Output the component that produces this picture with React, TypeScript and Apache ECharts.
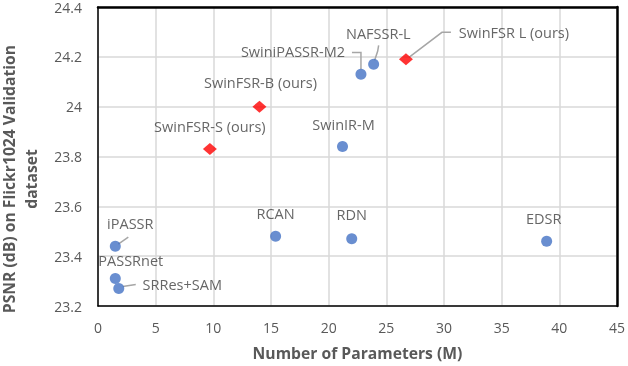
import React, { useEffect, useRef } from "react";
import * as echarts from "echarts";

// ---- data ----
const oursNames = ["SwinFSR-S (ours)", "SwinFSR-B (ours)", "SwinFSR L (ours)"];
const oursParams = [9.7, 14.0, 26.7];
const oursPsnr = [23.83, 24.0, 24.19];

const otherNames = ["SwiniPASSR-M2", "NAFSSR-L", "SwinIR-M", "RCAN", "RDN", "EDSR", "iPASSR", "PASSRnet", "SRRes+SAM"];
const otherParams = [22.8, 23.9, 21.2, 15.4, 22.0, 38.9, 1.5, 1.5, 1.8];
const otherPsnr = [24.13, 24.17, 23.84, 23.48, 23.47, 23.46, 23.44, 23.31, 23.27];

const xTicks = { min: 0, max: 45, interval: 5 };
const yTicks = { min: 23.2, max: 24.4, interval: 0.2 };

const xTitle = "Number of Parameters (M)";
const yTitle = "PSNR (dB) on Flickr1024 Validation\ndataset";

// ---- label styling (pixel offsets of label centres from their points) ----
const labelOffsets: Record<string, [number, number]> = {
  "SwinFSR-S (ours)": [0, -23],
  "SwinFSR-B (ours)": [1, -24],
  "SwinFSR L (ours)": [108, -27.3],
  "SwiniPASSR-M2": [-68, -23],
  "NAFSSR-L": [4.7, -31],
  "SwinIR-M": [1, -22],
  RCAN: [0, -23],
  RDN: [0, -24],
  EDSR: [-3, -23],
  iPASSR: [15, -23],
  PASSRnet: [15.5, -17.6],
  "SRRes+SAM": [63.5, -4],
};

const leaderOffsets: Record<string, [number, number][]> = {
  "SwinFSR L (ours)": [[3, -2], [36, -27], [45, -27]],
  "NAFSSR-L": [[1, -4], [4, -13], [5, -19]],
  "SwiniPASSR-M2": [[-9, -21.7], [0, -21.7], [0, -5]],
  iPASSR: [[3, -2], [13, -9]],
  "SRRes+SAM": [[4, -2], [17, -4]],
};

const FONT = "'Open Sans', 'Liberation Sans', sans-serif";

export default function App() {
  const ref = useRef<HTMLDivElement>(null);
  useEffect(() => {
    if (!ref.current) return;
    const chart = echarts.init(ref.current, undefined, { renderer: "svg" });
    const labelCfg = {
      show: true,
      position: "inside" as const,
      formatter: (p: any) => p.name,
      color: "#404040",
      fontSize: 14.5,
      fontFamily: FONT,
    };
    const layout = (p: any) => {
      const name = p.text;
      const off = labelOffsets[name] || [0, -22];
      return { dx: off[0], dy: off[1] };
    };
    const gridLine = { show: true, lineStyle: { color: "#d9d9d9", width: 1.5 } };
    chart.setOption({
      animation: false,
      grid: { left: 98, right: 9, top: 7, bottom: 59 },
      xAxis: [
        {
          type: "value",
          ...xTicks,
          axisLine: { show: true, onZero: false, lineStyle: { color: "#000", width: 1.5 } },
          axisTick: { show: false },
          splitLine: gridLine,
          axisLabel: { color: "#595959", fontSize: 14, fontFamily: FONT, margin: 14 },
          name: xTitle,
          nameLocation: "middle",
          nameGap: 39,
          nameTextStyle: { color: "#595959", fontSize: 15.7, fontWeight: "bold", fontFamily: FONT },
        },
        {
          type: "value",
          position: "top",
          ...xTicks,
          axisLine: { show: true, onZero: false, lineStyle: { color: "#000", width: 2.5 } },
          axisTick: { show: false },
          axisLabel: { show: false },
          splitLine: { show: false },
        },
      ],
      yAxis: [
        {
          type: "value",
          ...yTicks,
          axisLine: { show: true, onZero: false, lineStyle: { color: "#000", width: 1.5 } },
          axisTick: { show: false },
          splitLine: gridLine,
          axisLabel: { color: "#595959", fontSize: 14, fontFamily: FONT, margin: 16 },
        },
        {
          type: "value",
          position: "right",
          ...yTicks,
          axisLine: { show: true, onZero: false, lineStyle: { color: "#000", width: 2.5 } },
          axisTick: { show: false },
          axisLabel: { show: false },
          splitLine: { show: false },
        },
      ],
      series: [
        {
          type: "scatter",
          name: "others",
          symbol: "circle",
          symbolSize: 11,
          itemStyle: { color: "#4472C4" },
          data: otherNames.map((n, i) => ({ name: n, value: [otherParams[i], otherPsnr[i]] })),
          label: labelCfg,
          labelLayout: layout,
          z: 3,
        },
        {
          type: "scatter",
          name: "ours",
          symbol: "diamond",
          symbolSize: [14, 12],
          itemStyle: { color: "#FF0000" },
          data: oursNames.map((n, i) => ({ name: n, value: [oursParams[i], oursPsnr[i]] })),
          label: labelCfg,
          labelLayout: layout,
          z: 3,
        },
      ],
    });

    const graphics: any[] = [];
    const addLeaders = (names: string[], xs: number[], ys: number[], si: number) => {
      names.forEach((n, i) => {
        const offs = leaderOffsets[n];
        if (!offs) return;
        const pt = chart.convertToPixel({ seriesIndex: si }, [xs[i], ys[i]]) as number[];
        graphics.push({
          type: "polyline",
          silent: true,
          z: 2,
          shape: { points: offs.map((o) => [pt[0] + o[0], pt[1] + o[1]]) },
          style: { stroke: "#a6a6a6", lineWidth: 1.5, fill: null },
        });
      });
    };
    addLeaders(otherNames, otherParams, otherPsnr, 0);
    addLeaders(oursNames, oursParams, oursPsnr, 1);
    graphics.push({
      type: "text",
      x: 20,
      y: 179,
      rotation: Math.PI / 2,
      style: {
        text: yTitle,
        fill: "#595959",
        font: `bold 15.7px ${FONT}`,
        align: "center",
        verticalAlign: "middle",
        lineHeight: 22,
      },
    });
    chart.setOption({ graphic: graphics });

    return () => chart.dispose();
  }, []);
  return <div ref={ref} style={{ position: "fixed", left: 0, top: 0, width: 628, height: 366 }} />;
}
